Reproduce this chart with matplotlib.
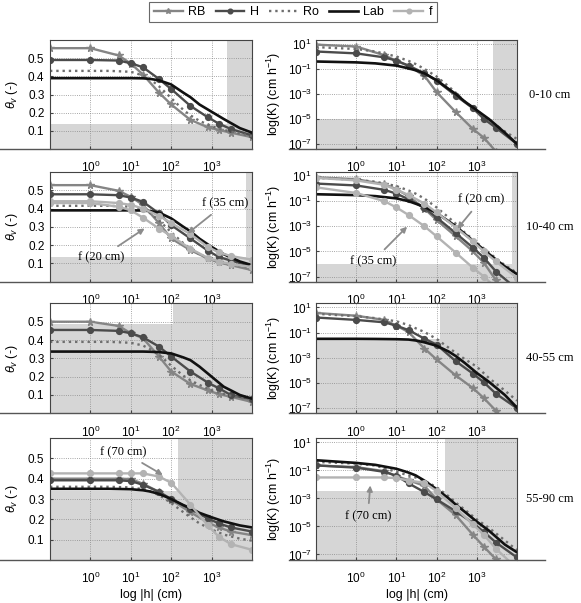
import numpy as np
import matplotlib
matplotlib.use("Agg")
import matplotlib.pyplot as plt
from matplotlib.lines import Line2D
from matplotlib.ticker import NullLocator

plt.rcParams['font.family'] = ['Liberation Sans', 'DejaVu Sans']
plt.rcParams['mathtext.fontset'] = 'custom'
plt.rcParams['mathtext.rm'] = 'Liberation Sans'
plt.rcParams['mathtext.it'] = 'Liberation Sans:italic'

# pressure heads (cm): marker series and smooth fitted curves
h_pts = [0.1, 1, 5, 10, 20, 50, 100, 300, 800, 1500, 3000, 10000]
h_fit = [0.1, 1, 3, 10, 20, 30, 50, 100, 200, 300, 500, 1000, 2000, 5000, 10000]

layers = ["0-10 cm", "10-40 cm", "40-55 cm", "55-90 cm"]

# water content theta_v (-)
RB_th1 = [0.555, 0.555, 0.515, 0.47, 0.41, 0.31, 0.245, 0.16, 0.12, 0.105, 0.09, 0.065]
H_th1 = [0.49, 0.49, 0.487, 0.472, 0.45, 0.385, 0.33, 0.237, 0.175, 0.14, 0.11, 0.075]
Ro_th1 = [0.43, 0.43, 0.43, 0.425, 0.405, 0.385, 0.345, 0.28, 0.215, 0.185, 0.155, 0.125, 0.105, 0.085, 0.07]
Lab_th1 = [0.39, 0.39, 0.39, 0.39, 0.389, 0.386, 0.378, 0.355, 0.31, 0.285, 0.245, 0.205, 0.165, 0.115, 0.09]

RB_th2 = [0.528, 0.528, 0.497, 0.464, 0.42, 0.32, 0.236, 0.172, 0.127, 0.105, 0.09, 0.063]
H_th2 = [0.478, 0.478, 0.473, 0.46, 0.437, 0.373, 0.309, 0.236, 0.17, 0.135, 0.115, 0.085]
Ro_th2 = [0.415, 0.415, 0.415, 0.41, 0.395, 0.375, 0.335, 0.27, 0.21, 0.18, 0.15, 0.12, 0.1, 0.085, 0.075]
Lab_th2 = [0.39, 0.39, 0.39, 0.39, 0.389, 0.386, 0.378, 0.346, 0.3, 0.275, 0.235, 0.19, 0.15, 0.11, 0.09]
f20_th2 = [0.43, 0.43, 0.41, 0.39, 0.35, 0.29, 0.25, 0.18, 0.13, 0.11, 0.095, 0.08]
f35_th2 = [0.44, 0.44, 0.43, 0.42, 0.40, 0.36, 0.32, 0.26, 0.19, 0.16, 0.14, 0.12]

RB_th3 = [0.5, 0.5, 0.477, 0.437, 0.41, 0.31, 0.228, 0.16, 0.125, 0.105, 0.09, 0.062]
H_th3 = [0.455, 0.455, 0.45, 0.437, 0.415, 0.364, 0.31, 0.228, 0.168, 0.137, 0.1, 0.076]
Ro_th3 = [0.39, 0.39, 0.39, 0.385, 0.37, 0.35, 0.32, 0.26, 0.205, 0.18, 0.155, 0.125, 0.105, 0.085, 0.075]
Lab_th3 = [0.337, 0.337, 0.337, 0.337, 0.337, 0.336, 0.334, 0.327, 0.305, 0.29, 0.255, 0.2, 0.145, 0.1, 0.08]

RB_th4 = [0.40, 0.40, 0.40, 0.398, 0.375, 0.335, 0.295, 0.235, 0.185, 0.16, 0.14, 0.122]
H_th4 = [0.392, 0.392, 0.392, 0.388, 0.37, 0.335, 0.3, 0.25, 0.205, 0.18, 0.16, 0.14]
Ro_th4 = [0.36, 0.36, 0.36, 0.357, 0.348, 0.337, 0.32, 0.28, 0.235, 0.21, 0.18, 0.15, 0.125, 0.105, 0.095]
Lab_th4 = [0.35, 0.35, 0.35, 0.348, 0.343, 0.337, 0.325, 0.3, 0.27, 0.255, 0.232, 0.21, 0.19, 0.17, 0.16]
f70_th4 = [0.426, 0.426, 0.426, 0.426, 0.426, 0.41, 0.38, 0.272, 0.17, 0.115, 0.078, 0.05]

# log10 of hydraulic conductivity K (cm h-1)
RB_K1 = [0.95, 0.8, 0.1, -0.35, -0.75, -1.55, -2.85, -4.45, -5.8, -6.5, -7.6, -9.5]
H_K1 = [0.4, 0.25, -0.07, -0.33, -0.73, -1.34, -1.93, -3.13, -4.14, -4.99, -5.7, -7.0]
Ro_K1 = [0.75, 0.6, 0.4, 0.0, -0.35, -0.6, -1.0, -1.6, -2.4, -2.9, -3.6, -4.3, -5.1, -6.0, -6.6]
Lab_K1 = [-0.4, -0.47, -0.55, -0.73, -0.95, -1.1, -1.35, -1.9, -2.6, -3.0, -3.6, -4.3, -5.0, -6.1, -7.0]

RB_K2 = [0.9, 0.75, 0.35, -0.05, -0.6, -1.6, -2.5, -3.8, -5.0, -5.9, -7.3, -9.0]
H_K2 = [0.4, 0.25, -0.1, -0.4, -0.85, -1.55, -2.3, -3.55, -4.7, -5.5, -6.6, -8.0]
Ro_K2 = [0.85, 0.7, 0.55, 0.2, -0.15, -0.4, -0.8, -1.5, -2.3, -2.8, -3.5, -4.3, -5.1, -6.1, -6.7]
Lab_K2 = [-0.45, -0.52, -0.6, -0.78, -1.0, -1.2, -1.45, -1.95, -2.6, -3.0, -3.6, -4.4, -5.2, -6.2, -6.8]
f20_K2 = [0.85, 0.65, 0.3, -0.1, -0.5, -1.2, -1.9, -3.1, -4.2, -5.0, -5.8, -7.1]
f35_K2 = [0.1, -0.35, -1.0, -1.5, -2.1, -3.0, -3.8, -5.1, -6.3, -7.0, -7.9, -9.5]

RB_K3 = [0.56, 0.34, 0.01, -0.45, -0.95, -2.26, -3.13, -4.4, -5.4, -6.2, -7.2, -9.0]
H_K3 = [0.2, 0.01, -0.18, -0.45, -0.8, -1.48, -1.95, -3.27, -4.25, -4.95, -5.85, -7.0]
Ro_K3 = [0.5, 0.3, 0.15, -0.1, -0.4, -0.65, -0.95, -1.5, -2.2, -2.6, -3.1, -3.7, -4.6, -5.6, -6.4]
Lab_K3 = [-1.49, -1.49, -1.5, -1.52, -1.55, -1.62, -1.77, -2.04, -2.5, -2.86, -3.4, -4.2, -4.9, -5.95, -6.95]

RB_K4 = [-0.64, -0.76, -1.05, -1.4, -1.7, -2.1, -3.07, -4.2, -5.6, -6.45, -7.35, -9.0]
H_K4 = [-0.64, -0.8, -1.1, -1.38, -1.92, -2.55, -3.07, -3.92, -4.75, -5.4, -6.15, -7.22]
Ro_K4 = [-0.39, -0.51, -0.65, -1.1, -1.35, -1.5, -1.73, -2.2, -2.85, -3.3, -3.8, -4.5, -5.1, -6.0, -6.7]
Lab_K4 = [-0.27, -0.46, -0.6, -0.88, -1.15, -1.35, -1.73, -2.34, -3.0, -3.44, -3.95, -4.66, -5.3, -6.3, -6.85]
f70_K4 = [-1.5, -1.5, -1.5, -1.55, -1.72, -1.88, -2.48, -3.7, -4.85, -5.6, -6.6, -8.0]

# shaded limits per layer
vband_th = [2400, 7000, 110, 150]
hband_th = [0.135, 0.135, 0.485, 0.34]
vband_K = [2500, 7400, 120, 160]
hband_K = [-5.0, -6.0, -1.5, -2.46]

RB_th = [RB_th1, RB_th2, RB_th3, RB_th4]
H_th = [H_th1, H_th2, H_th3, H_th4]
Ro_th = [Ro_th1, Ro_th2, Ro_th3, Ro_th4]
Lab_th = [Lab_th1, Lab_th2, Lab_th3, Lab_th4]
f_th = [[], [f20_th2, f35_th2], [], [f70_th4]]
RB_K = [RB_K1, RB_K2, RB_K3, RB_K4]
H_K = [H_K1, H_K2, H_K3, H_K4]
Ro_K = [Ro_K1, Ro_K2, Ro_K3, Ro_K4]
Lab_K = [Lab_K1, Lab_K2, Lab_K3, Lab_K4]
f_K = [[], [f20_K2, f35_K2], [], [f70_K4]]

sty = {
    'RB': dict(color='#858585', marker='*', ms=5.5, lw=1.7),
    'H': dict(color='#4b4b4b', marker='o', ms=4.2, lw=1.7),
    'Ro': dict(color='#6e6e6e', ls=':', lw=1.7),
    'Lab': dict(color='#111111', lw=1.9),
    'f': dict(color='#b3b3b3', marker='o', ms=4.2, lw=1.7),
}
shade = '#d6d6d6'
W, Hpx = 581.0, 603.0
rows = [(40, 149), (172, 281.6), (303.4, 413.3), (438, 560)]

fig = plt.figure(figsize=(5.81, 6.03), dpi=100)


def style_axes(ax):
    ax.set_xscale('log')
    ax.set_xlim(0.1, 1e4)
    ax.set_xticks([1, 10, 100, 1000])
    ax.xaxis.set_minor_locator(NullLocator())
    ax.grid(True, which='major', ls=':', color='#8a8a8a', lw=0.6)
    ax.tick_params(direction='in', length=2.5, labelsize=8.5, color='#444444')
    ax.tick_params(axis='x', pad=8)
    for s in ax.spines.values():
        s.set_color('#444444')
        s.set_linewidth(0.8)
    ax.spines['bottom'].set_visible(False)


for i in range(4):
    top, bot = rows[i]
    yb = 1 - bot / Hpx
    hh = (bot - top) / Hpx

    # theta panel
    ax = fig.add_axes([50 / W, yb, 202 / W, hh])
    style_axes(ax)
    ax.axvspan(vband_th[i], 1e4, color=shade, lw=0)
    ax.axhspan(0, hband_th[i], color=shade, lw=0)
    ax.plot(h_pts, RB_th[i], **sty['RB'])
    ax.plot(h_pts, H_th[i], **sty['H'])
    ax.plot(h_fit, Ro_th[i], **sty['Ro'])
    ax.plot(h_fit, Lab_th[i], **sty['Lab'])
    for fv in f_th[i]:
        ax.plot(h_pts, fv, **sty['f'])
    ax.set_ylim(0, 0.6)
    ax.set_yticks([0.1, 0.2, 0.3, 0.4, 0.5])
    ax.tick_params(axis='y', pad=4)
    ax.set_ylabel(r'$\theta_v$ (-)', fontsize=9)
    ax.yaxis.set_label_coords(-0.15, 0.5)
    if i == 3:
        ax.set_xlabel('log |h| (cm)', fontsize=9, labelpad=2)
    fig.add_artist(Line2D([0, 252 / W], [yb, yb], transform=fig.transFigure,
                          color='#555555', lw=1.0))

    # conductivity panel
    ax2 = fig.add_axes([316 / W, yb, 201 / W, hh])
    style_axes(ax2)
    ax2.set_yscale('log')
    ax2.axvspan(vband_K[i], 1e4, color=shade, lw=0)
    ax2.axhspan(1e-9, 10 ** hband_K[i], color=shade, lw=0)
    ax2.plot(h_pts, 10 ** np.array(RB_K[i]), **sty['RB'])
    ax2.plot(h_pts, 10 ** np.array(H_K[i]), **sty['H'])
    ax2.plot(h_fit, 10 ** np.array(Ro_K[i]), **sty['Ro'])
    ax2.plot(h_fit, 10 ** np.array(Lab_K[i]), **sty['Lab'])
    for fv in f_K[i]:
        ax2.plot(h_pts, 10 ** np.array(fv), **sty['f'])
    ax2.set_ylim(10 ** -7.4, 10 ** 1.32)
    ax2.set_yticks([1e1, 1e-1, 1e-3, 1e-5, 1e-7])
    ax2.yaxis.set_minor_locator(NullLocator())
    ax2.tick_params(axis='y', pad=3)
    ax2.set_ylabel(r'log(K) (cm h$^{-1}$)', fontsize=9)
    ax2.yaxis.set_label_coords(-0.165, 0.5)
    if i == 3:
        ax2.set_xlabel('log |h| (cm)', fontsize=9, labelpad=2)
    fig.add_artist(Line2D([289 / W, 545 / W], [yb, yb], transform=fig.transFigure,
                          color='#555555', lw=1.0))
    fig.text(550 / W, 1 - ((top + bot) / 2) / Hpx, layers[i], ha='center', va='center',
             family='Liberation Serif', fontsize=9)

    if i == 1:
        thL, thR = ax, ax2
    if i == 3:
        thL4, kR4 = ax, ax2

arr = dict(arrowstyle='-|>', color='#8c8c8c', lw=1.3, mutation_scale=8, shrinkA=3, shrinkB=0)
tk = dict(family='Liberation Serif', fontsize=9, ha='center', va='center')
thL.annotate('f (35 cm)', xy=(257, 0.264), xytext=(2190, 0.428), arrowprops=arr, **tk)
thL.annotate('f (20 cm)', xy=(22, 0.291), xytext=(1.87, 0.133), arrowprops=arr, **tk)
thR.annotate('f (20 cm)', xy=(330, 10 ** -3.19), xytext=(1290, 10 ** -0.88), arrowprops=arr, **tk)
thR.annotate('f (35 cm)', xy=(18.5, 10 ** -3.03), xytext=(2.6, 10 ** -5.77), arrowprops=arr, **tk)
thL4.annotate('f (70 cm)', xy=(62, 0.418), xytext=(6.6, 0.531), arrowprops=arr, **tk)
kR4.annotate('f (70 cm)', xy=(2.24, 10 ** -2.07), xytext=(1.94, 10 ** -4.26), arrowprops=arr, **tk)

handles = [Line2D([], [], **sty[k]) for k in ['RB', 'H', 'Ro', 'Lab', 'f']]
leg = fig.legend(handles, ['RB', 'H', 'Ro', 'Lab', 'f'], loc='center', ncol=5,
                 bbox_to_anchor=(293 / W, 1 - 12 / Hpx), fontsize=9, fancybox=False,
                 edgecolor='#444444', handlelength=2.3, columnspacing=0.8,
                 handletextpad=0.45, borderpad=0.35, markerscale=0.8)
leg.get_frame().set_linewidth(0.8)

fig.savefig('out.png', dpi=100)
